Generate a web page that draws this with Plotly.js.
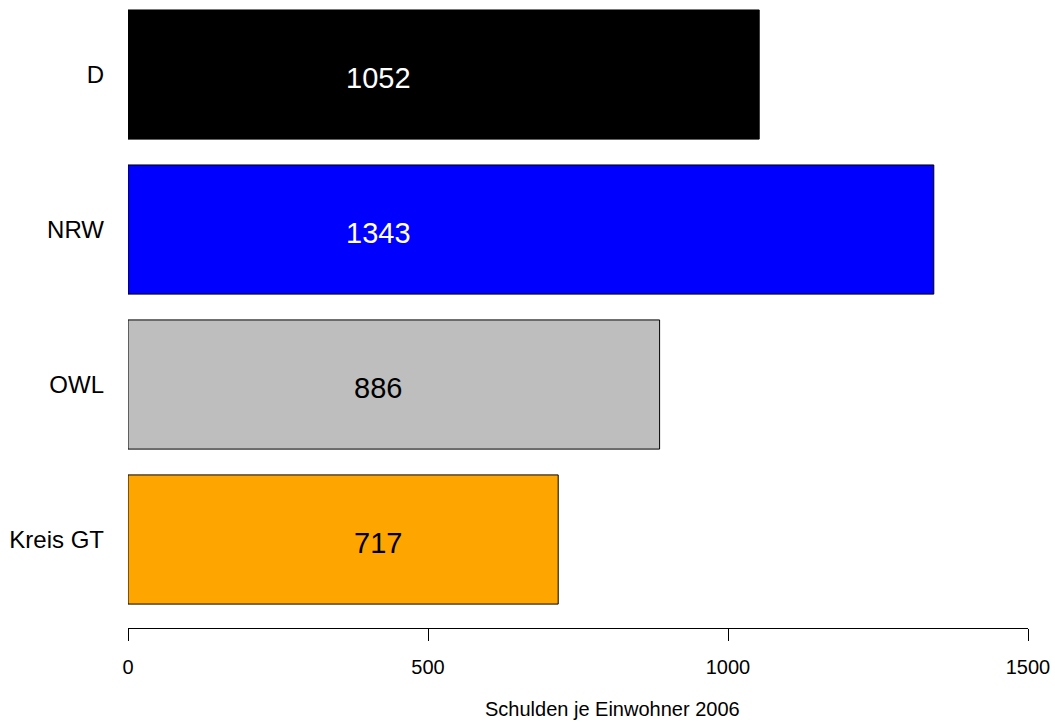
<!DOCTYPE html>
<html>
<head>
<meta charset="utf-8">
<script src="https://cdn.plot.ly/plotly-3.0.1.min.js"></script>
<style>html,body{margin:0;padding:0;background:#fff;}#chart{width:1055px;height:722px;}</style>
</head>
<body>
<div id="chart"></div>
<script>
const categories = ["D", "NRW", "OWL", "Kreis GT"];
const values = [1052, 1343, 886, 717];
const barColors = ["#000000", "#0000FF", "#BEBEBE", "#FFA500"];
const labelColors = ["#FFFFFF", "#FFFFFF", "#000000", "#000000"];
const xTicks = [0, 500, 1000, 1500];
const xTitle = "Schulden je Einwohner 2006";
const labelPos = 417;
const titlePos = 807;

const font = "Liberation Sans, Arial, Helvetica, sans-serif";

const trace = {
  type: "bar",
  orientation: "h",
  y: categories,
  x: values,
  width: 0.8333,
  marker: { color: barColors, line: { color: "#000000", width: 1 } },
  hoverinfo: "none"
};

const annotations = categories.map((c, i) => ({
  x: labelPos, y: c, xref: "x", yref: "y",
  text: String(values[i]), showarrow: false,
  font: { family: font, size: 29, color: labelColors[i] },
  xanchor: "center", yanchor: "middle", yshift: -3
}));

annotations.push({
  x: titlePos, y: 0, xref: "x", yref: "paper",
  text: xTitle, showarrow: false, borderpad: 0,
  font: { family: font, size: 20, color: "#000" },
  xanchor: "center", yanchor: "bottom", yshift: -93
});

const layout = {
  width: 1055, height: 722,
  margin: { l: 128, r: 27, t: 0, b: 94 },
  paper_bgcolor: "#fff", plot_bgcolor: "#fff",
  showlegend: false,
  font: { family: font, color: "#000" },
  xaxis: {
    range: [0, 1500],
    tickvals: xTicks, ticktext: xTicks.map(String),
    showgrid: false, zeroline: false,
    showline: true, linecolor: "#000", linewidth: 1,
    ticks: "outside", ticklen: 12, tickwidth: 1, tickcolor: "#000",
    ticklabelstandoff: 9,
    tickfont: { family: font, size: 20, color: "#000" }
  },
  yaxis: {
    type: "category",
    categoryorder: "array", categoryarray: categories,
    range: [3.571, -0.481],
    showgrid: false, zeroline: false, showline: false,
    ticks: "", ticklabelstandoff: 23,
    tickfont: { family: font, size: 24, color: "#000" }
  },
  annotations: annotations
};

Plotly.newPlot("chart", [trace], layout, { displayModeBar: false, staticPlot: true });
</script>
</body>
</html>
